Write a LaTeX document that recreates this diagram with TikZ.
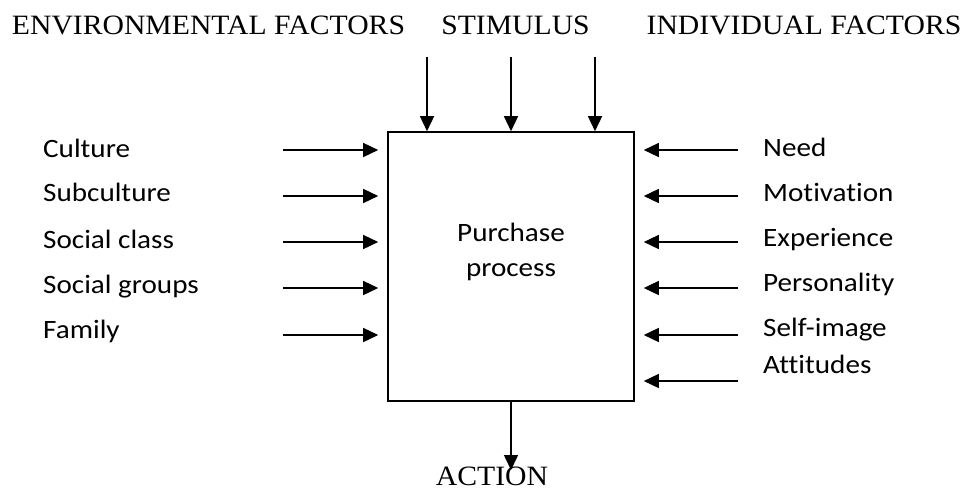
\documentclass[tikz,border=0pt]{standalone}
\usepackage{fontspec}
\setmainfont{Liberation Serif}
\newfontfamily\hdrfont[FakeStretch=1.06]{Liberation Serif}
\newfontfamily\lblfont[FakeStretch=1.1,Ligatures={NoCommon}]{Carlito}
\usetikzlibrary{arrows.meta}
\begin{document}
\begin{tikzpicture}[x=1pt,y=-1pt,
  hdr/.style={font=\hdrfont\fontsize{28}{30}\selectfont, inner sep=0pt, anchor=base},
  lbl/.style={font=\lblfont\fontsize{26.5}{30}\selectfont, inner sep=0pt, anchor=base west},
  arr/.style={line width=1.5pt, -{Triangle[length=15pt,width=14pt]}},
  procbox/.style={draw, line width=1.6pt, minimum width=246pt, minimum height=269pt, inner sep=0pt}
]
\useasboundingbox (0,0) rectangle (965,490);
% headers
\node[hdr] (env) at (208.5,34) {ENVIRONMENTAL FACTORS};
\node[hdr] (stim) at (515.5,34) {STIMULUS};
\node[hdr] (indiv) at (804,34) {INDIVIDUAL FACTORS};
% box
\node[procbox] (box) at (511,266.5) {};
\node[font=\lblfont\fontsize{26.5}{30}\selectfont, inner sep=0pt, anchor=base] (purch) at (511,241.7) {Purchase};
\node[font=\lblfont\fontsize{26.5}{30}\selectfont, inner sep=0pt, anchor=base] (proc) at (511,276) {process};
% top arrows
\coordinate (t1) at (427,57);
\coordinate (t2) at (511,57);
\coordinate (t3) at (595,57);
\foreach \t in {t1,t2,t3} \draw[arr] (\t) -- (box.north -| \t);
% left labels
\node[lbl] (l1) at (43,157.3) {Culture};
\node[lbl] (l2) at (43,201.7) {Subculture};
\node[lbl] (l3) at (43,248) {Social class};
\node[lbl] (l4) at (43,293) {Social groups};
\node[lbl] (l5) at (43,338) {Family};
\coordinate (la1) at (283,150);
\coordinate (la2) at (283,196);
\coordinate (la3) at (283,242);
\coordinate (la4) at (283,288);
\coordinate (la5) at (283,335);
\foreach \a in {la1,la2,la3,la4,la5} \draw[arr, shorten >=9pt] (\a) -- (box.west |- \a);
% right labels
\node[lbl] (r1) at (763,156) {Need};
\node[lbl] (r2) at (763,201.7) {Motivation};
\node[lbl] (r3) at (763,246.7) {Experience};
\node[lbl] (r4) at (763,291.7) {Personality};
\node[lbl] (r5) at (763,336.7) {Self-image};
\node[lbl] (r6) at (763,373) {Attitudes};
\coordinate (ra1) at (738,150);
\coordinate (ra2) at (738,196);
\coordinate (ra3) at (738,242);
\coordinate (ra4) at (738,288);
\coordinate (ra5) at (738,335);
\coordinate (ra6) at (738,381);
\foreach \a in {ra1,ra2,ra3,ra4,ra5,ra6} \draw[arr, shorten >=9pt] (\a) -- (box.east |- \a);
% action
\node[hdr] (act) at (492,485) {ACTION};
\coordinate (ae) at (511,470);
\draw[arr] (box.south -| ae) -- (ae);
\end{tikzpicture}
\end{document}
